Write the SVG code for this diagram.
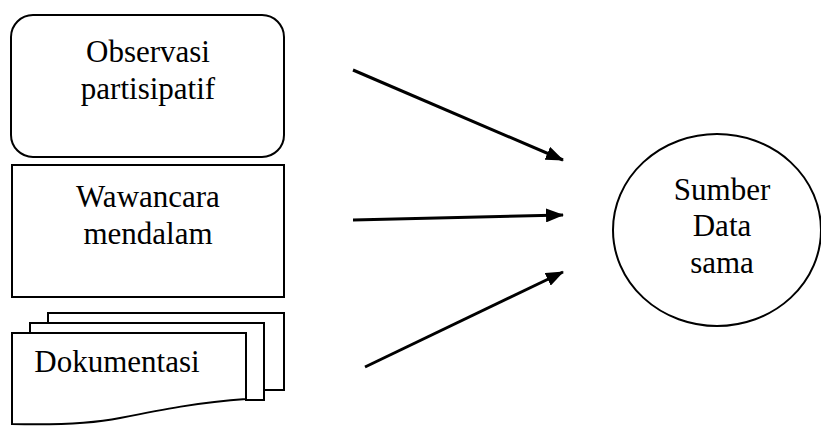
<svg xmlns="http://www.w3.org/2000/svg" width="821" height="426" viewBox="0 0 821 426">
<style>
.s{fill:#fff;stroke:#000;stroke-width:2}
.t{font-family:'Liberation Serif','DejaVu Serif',serif;font-size:31px;fill:#000;text-anchor:middle}
.c{stroke:#000;stroke-width:3;fill:none}
</style>
<defs>
<marker id="ah" markerWidth="18" markerHeight="14" refX="17" refY="7" orient="auto" markerUnits="userSpaceOnUse">
<path d="M0,0 L18,7 L0,14 Z" fill="#000"/>
</marker>
</defs>
<rect width="821" height="426" fill="#fff"/>
<g id="observasi">
<rect class="s" x="11" y="15" width="273" height="142" rx="22" ry="22"/>
<text class="t" x="148" y="62">Observasi</text>
<text class="t" x="148" y="99">partisipatif</text>
</g>
<g id="wawancara">
<rect class="s" x="12" y="165" width="272" height="132"/>
<text class="t" x="148" y="207">Wawancara</text>
<text class="t" x="148" y="244">mendalam</text>
</g>
<g id="dokumentasi">
<path class="s" d="M48,313 H284 V390 H264 V323 H48 Z"/>
<path class="s" d="M30,323 H264 V400 H246 V333 H30 Z"/>
<path class="s" d="M12,333 H246 V399 C200,402 160,410 120,418 C90,424 50,425 12,424 Z"/>
<text class="t" x="117" y="372">Dokumentasi</text>
</g>
<g id="sumber">
<ellipse class="s" cx="717" cy="230" rx="104" ry="96"/>
<text class="t" x="722" y="200">Sumber</text>
<text class="t" x="722" y="236">Data</text>
<text class="t" x="722" y="273">sama</text>
</g>
<g id="connectors">
<line class="c" x1="353" y1="70" x2="563" y2="160" marker-end="url(#ah)"/>
<line class="c" x1="353" y1="220" x2="563" y2="215" marker-end="url(#ah)"/>
<line class="c" x1="365" y1="367" x2="563" y2="272" marker-end="url(#ah)"/>
</g>
</svg>
